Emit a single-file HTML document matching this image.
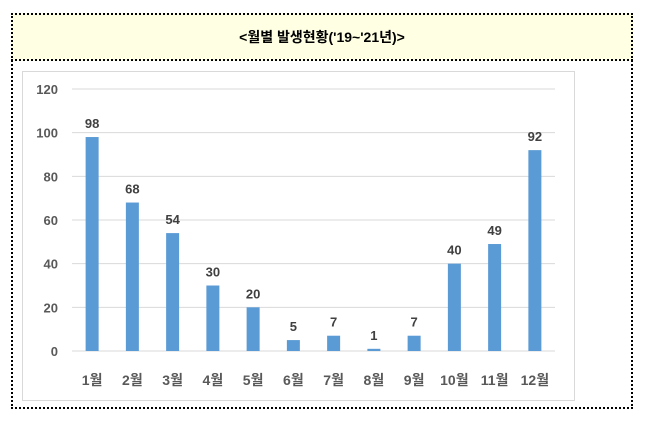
<!DOCTYPE html>
<html><head><meta charset="utf-8"><style>
body{margin:0;background:#fff;width:651px;height:422px;overflow:hidden;font-family:"Liberation Sans","Noto Sans CJK KR",sans-serif}
#frame{position:absolute;left:11px;top:13px;width:622px;height:396px;border:2px dotted #000;box-sizing:border-box}
#title{position:absolute;left:11px;top:13px;width:622px;height:48px;background:#ffffe3;border:2px dotted #000;box-sizing:border-box;text-align:center;font-weight:bold;font-size:14px;line-height:44px;color:#000}
#box{position:absolute;left:22px;top:71px;width:553px;height:330px;border:1px solid #d9d9d9;box-sizing:border-box}
svg{position:absolute;left:0;top:0}
</style></head><body>
<div id="frame"></div>
<div id="title">&lt;월별 발생현황('19~'21년)&gt;</div>
<div id="box"></div>
<svg id="chart" width="651" height="422"></svg>
<script>
const categories=["1월","2월","3월","4월","5월","6월","7월","8월","9월","10월","11월","12월"];
const values=[98,68,54,30,20,5,7,1,7,40,49,92];
const yTicks=[0,20,40,60,80,100,120];
const svg=document.getElementById('chart');
const NS='http://www.w3.org/2000/svg';
const x0=72,x1=555,y0=351,y1=89,ymax=120;
const band=(x1-x0)/categories.length;
const xc=i=>x0+band*(i+0.5);
const y=v=>y0-(v/ymax)*(y0-y1);
function mk(t,a){const e=document.createElementNS(NS,t);for(const k in a)e.setAttribute(k,a[k]);svg.appendChild(e);return e;}
yTicks.forEach(t=>{
 const g=mk('line',{x1:x0,x2:x1,y1:y(t),y2:y(t),stroke:'#d9d9d9','stroke-width':1});
 
 
 const l=mk('text',{x:58,y:y(t)+5,'text-anchor':'end','font-size':13,'font-weight':'bold',fill:'#595959','font-family':'Liberation Sans, sans-serif'});
 l.textContent=t;
 
 
});
values.forEach((v,i)=>{
 const b=mk('rect',{x:xc(i)-6.5,y:y(v),width:13,height:y0-y(v),fill:'#5b9bd5'});
 
 
 const t=mk('text',{x:xc(i),y:y(v)-9,'text-anchor':'middle','font-size':13,'font-weight':'bold',fill:'#404040','font-family':'Liberation Sans, sans-serif'});
 t.textContent=v;
 
 
 const c=mk('text',{x:xc(i),y:385,'text-anchor':'middle','font-size':14,'font-weight':'bold',fill:'#595959','font-family':'Liberation Sans, Noto Sans CJK KR, sans-serif'});
 c.textContent=categories[i];
 
 
});
</script>
</body></html>
